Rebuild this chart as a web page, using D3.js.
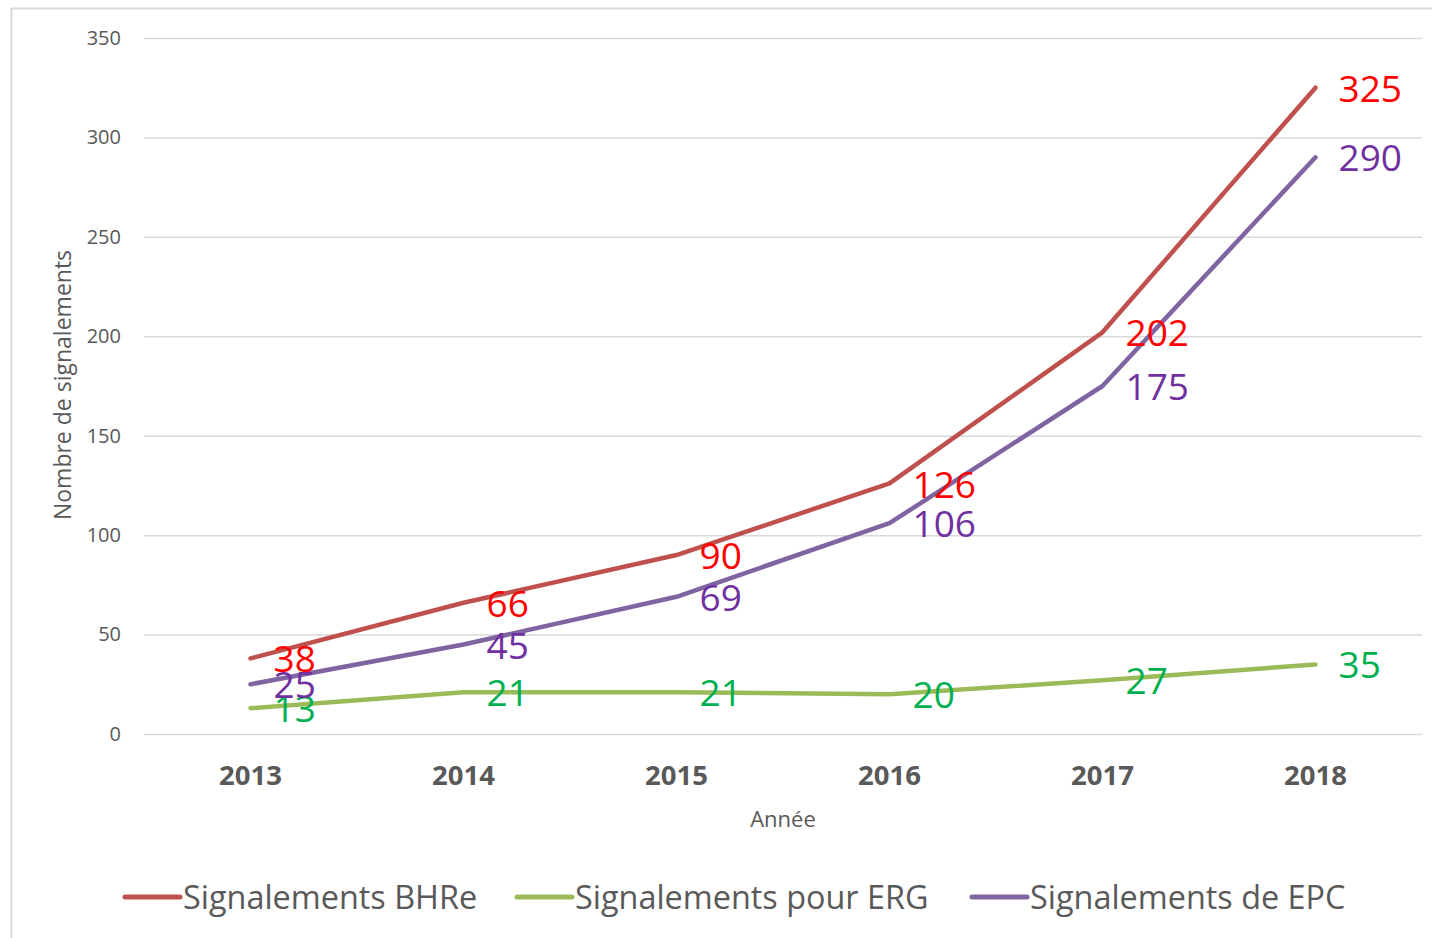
<!DOCTYPE html>
<html><head><meta charset="utf-8">
<script src="https://cdn.jsdelivr.net/npm/d3@7"></script>
<style>html,body{margin:0;padding:0;background:#fff;}svg{display:block;font-family:"Open Sans",sans-serif;}</style>
</head><body>
<svg id="c" width="1432" height="938"></svg>
<script>
const years = ["2013","2014","2015","2016","2017","2018"];
const bhre = [38, 66, 90, 126, 202, 325];
const erg = [13, 21, 21, 20, 27, 35];
const epc = [25, 45, 69, 106, 175, 290];
const seriesNames = ["Signalements BHRe", "Signalements pour ERG", "Signalements de EPC"];
const yTicks = [0, 50, 100, 150, 200, 250, 300, 350];

const series = [
  {name: seriesNames[0], values: bhre, line: "#C0504D", label: "#FF0000"},
  {name: seriesNames[1], values: erg, line: "#9BBB59", label: "#00B050"},
  {name: seriesNames[2], values: epc, line: "#8064A2", label: "#7030A0"}
];

const svg = d3.select("#c");
// outer frame
svg.append("rect").attr("x",11.5).attr("y",8.5).attr("width",1440).attr("height",960)
  .attr("fill","#fff").attr("stroke","#d9d9d9").attr("stroke-width",2);

const x = d3.scaleBand().domain(years).range([144, 1422]);
const y = d3.scaleLinear().domain([0, 350]).range([734, 38]);

// grid
const yAxis = svg.append("g").attr("transform","translate(144,0)")
  .call(d3.axisLeft(y).tickValues(yTicks).tickSize(-(1422-144)).tickPadding(23));
yAxis.select(".domain").remove();
yAxis.selectAll(".tick line").attr("stroke","#d9d9d9").attr("stroke-width",1.5);
yAxis.selectAll(".tick text").attr("fill","#595959").style("font-size","20px").style("font-family","Open Sans");

const xAxis = svg.append("g").attr("transform","translate(0,734)")
  .call(d3.axisBottom(x).tickSize(0).tickPadding(31));
xAxis.select(".domain").remove();
xAxis.selectAll(".tick text").attr("fill","#595959").style("font-size","27.5px").style("font-weight","bold").style("font-family","Open Sans");

// axis titles
svg.append("text").attr("x",783).attr("y",827).attr("text-anchor","middle")
  .attr("fill","#595959").style("font-size","22px").text("Année");
svg.append("text").attr("transform","translate(71,385) rotate(-90)").attr("text-anchor","middle")
  .attr("fill","#595959").style("font-size","23px").text("Nombre de signalements");

const line = d3.line().x((d,i)=>x(years[i]) + x.bandwidth()/2).y(d=>y(d));
series.forEach(s => {
  svg.append("path").datum(s.values).attr("d", line).attr("fill","none")
    .attr("stroke", s.line).attr("stroke-width",4.5).attr("stroke-linecap","round").attr("stroke-linejoin","round");
});
series.forEach(s => {
  svg.append("g").selectAll("text").data(s.values).join("text")
    .attr("x",(d,i)=>x(years[i]) + x.bandwidth()/2 + 23)
    .attr("y",d=>y(d)).attr("dy","0.38em")
    .attr("fill", s.label).style("font-size","37px").text(d=>d);
});

// legend
const legendX = [125, 517, 972];
series.forEach((s,i) => {
  const g = svg.append("g").attr("transform",`translate(${legendX[i]},897)`);
  g.append("line").attr("x1",0).attr("x2",55).attr("y1",0).attr("y2",0)
    .attr("stroke",s.line).attr("stroke-width",5).attr("stroke-linecap","round");
  g.append("text").attr("x",58).attr("y",0).attr("dy","0.36em").attr("fill","#595959")
    .style("font-size","32.4px").text(s.name);
});
</script>
</body></html>
